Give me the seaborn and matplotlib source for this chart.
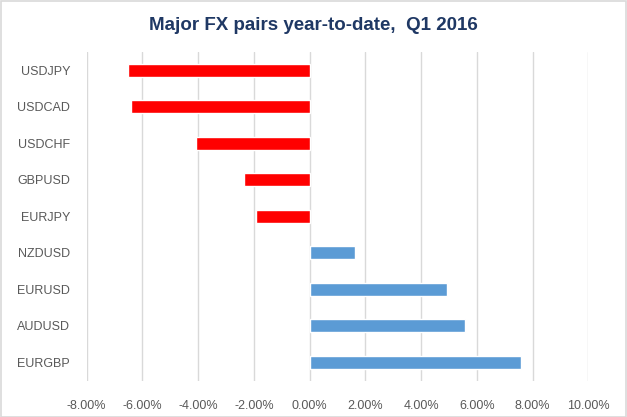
import matplotlib
matplotlib.use("Agg")
import matplotlib.pyplot as plt
import matplotlib.ticker as mticker
import seaborn as sns
import pandas as pd

sns.set_theme(style="white")
plt.rcParams['font.family'] = ['Liberation Sans', 'DejaVu Sans']

# year-to-date change, Q1 2016 (percent)
pairs = ["USDJPY", "USDCAD", "USDCHF", "GBPUSD", "EURJPY",
         "NZDUSD", "EURUSD", "AUDUSD", "EURGBP"]
ytd_change = [-6.51, -6.40, -4.08, -2.36, -1.93, 1.62, 4.92, 5.57, 7.57]
x_ticks = [-8, -6, -4, -2, 0, 2, 4, 6, 8, 10]

df = pd.DataFrame({"pair": pairs, "ytd": ytd_change})
df["sign"] = ["neg" if v < 0 else "pos" for v in df["ytd"]]

fig = plt.figure(figsize=(6.27, 4.17), dpi=100)
ax = fig.add_axes([86.7 / 627, 1 - 380.7 / 417, (588.3 - 86.7) / 627, (380.7 - 52) / 417])

for x in x_ticks:
    ax.axvline(x, color="#D9D9D9", lw=1, zorder=0)

sns.barplot(data=df, x="ytd", y="pair", hue="sign", order=pairs,
            palette={"neg": "#FF0000", "pos": "#5B9BD5"},
            width=0.36, dodge=False, legend=False, orient="h",
            saturation=1, ax=ax, zorder=2)

ax.set_xlim(-8, 10)
ax.set_ylim(8.5, -0.5)
ax.set_xticks(x_ticks)
ax.xaxis.set_major_formatter(mticker.FuncFormatter(lambda v, p: f"{v:.2f}%"))
ax.tick_params(axis="both", length=0, labelsize=9, labelcolor="#595959")
ax.tick_params(axis="y", pad=12)
ax.tick_params(axis="x", pad=14)
ax.set_xlabel("")
ax.set_ylabel("")
for s in ax.spines.values():
    s.set_visible(False)

fig.text(0.5, 1 - 26 / 417, "Major FX pairs year-to-date,  Q1 2016",
         ha="center", va="center", fontsize=13.5, fontweight="bold", color="#1F3864")

fig.patches.append(plt.Rectangle((0.001, 0.001), 0.998, 0.997, transform=fig.transFigure,
                                 fill=False, edgecolor="#D9D9D9", lw=1.2))

fig.savefig("out.png", dpi=100)
